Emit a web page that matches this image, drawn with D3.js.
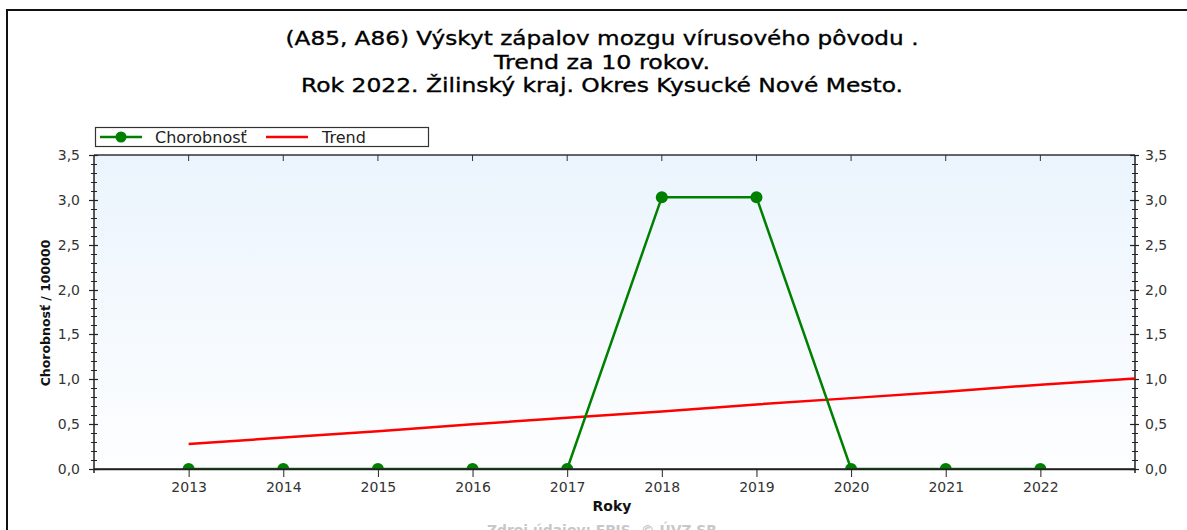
<!DOCTYPE html>
<html>
<head>
<meta charset="utf-8">
<script src="https://cdn.jsdelivr.net/npm/d3@7"></script>
<style>
  html, body { margin: 0; padding: 0; background: #fff; }
  svg { display: block; font-family: "DejaVu Sans", Verdana, sans-serif; }
</style>
</head>
<body>
<svg id="chart" width="1187" height="530"></svg>
<script>
// Incidence per 100 000 inhabitants, by year
const years = [2013, 2014, 2015, 2016, 2017, 2018, 2019, 2020, 2021, 2022];
const incidence = [0, 0, 0, 0, 0, 3.03, 3.03, 0, 0, 0];
// Linear trend, extended one year ahead
const trendYears = [2013, 2014, 2015, 2016, 2017, 2018, 2019, 2020, 2021, 2022, 2023];
const trendValues = [0.28, 0.35, 0.42, 0.50, 0.57, 0.64, 0.72, 0.79, 0.86, 0.94, 1.01];
const yTicks = [0, 0.5, 1.0, 1.5, 2.0, 2.5, 3.0, 3.5];
const titleLines = [
  "(A85, A86) Výskyt zápalov mozgu vírusového pôvodu .",
  "Trend za 10 rokov.",
  "Rok 2022. Žilinský kraj. Okres Kysucké Nové Mesto."
];
const titleWidths = [633, 216, 602];
const seriesNames = ["Chorobnosť", "Trend"];

const svg = d3.select("#chart");
const m = { left: 94, right: 1135, top: 155, bottom: 469 };

const x = d3.scaleLinear().domain([2012, 2023]).range([m.left, m.right]);
const y = d3.scaleLinear().domain([0, 3.5]).range([m.bottom, m.top]);
const fmt = d => d3.format(".1f")(d).replace(".", ",");

// outer frame
svg.append("path")
  .attr("d", `M7,532 L7,10 L1190,10`)
  .attr("fill", "none").attr("stroke", "#111").attr("stroke-width", 2);

// title
svg.append("g").selectAll("text").data(titleLines).join("text")
  .attr("x", 602).attr("y", (d, i) => 45 + i * 23.5)
  .attr("text-anchor", "middle")
  .attr("font-size", 20).attr("fill", "#000")
  .attr("stroke", "#000").attr("stroke-width", 0.35)
  .attr("textLength", (d, i) => titleWidths[i]).attr("lengthAdjust", "spacingAndGlyphs")
  .text(d => d);

// plot background gradient
const defs = svg.append("defs");
const grad = defs.append("linearGradient").attr("id", "bg")
  .attr("x1", 0).attr("y1", 0).attr("x2", 0).attr("y2", 1);
grad.append("stop").attr("offset", "0%").attr("stop-color", "#ebf4fd");
grad.append("stop").attr("offset", "100%").attr("stop-color", "#fdfeff");
defs.append("clipPath").attr("id", "clip").append("rect")
  .attr("x", m.left).attr("y", m.top)
  .attr("width", m.right - m.left).attr("height", m.bottom - m.top);

svg.append("rect")
  .attr("x", m.left).attr("y", m.top)
  .attr("width", m.right - m.left).attr("height", m.bottom - m.top)
  .attr("fill", "url(#bg)");

// top border line with year ticks pointing inward
svg.append("line").attr("x1", m.left).attr("x2", m.right)
  .attr("y1", m.top).attr("y2", m.top).attr("stroke", "#333").attr("stroke-width", 1.5);
svg.append("g").selectAll("line").data(years).join("line")
  .attr("x1", d => x(d)).attr("x2", d => x(d))
  .attr("y1", m.top).attr("y2", m.top + 6)
  .attr("stroke", "#333").attr("stroke-width", 1);

// y axes (left and right), with minor ticks every 0.1
const minor = d3.range(0, 36).map(i => i / 10);
function yAxis(xPos, side) {
  const g = svg.append("g");
  g.append("line").attr("x1", xPos).attr("x2", xPos)
    .attr("y1", m.top).attr("y2", m.bottom + 4)
    .attr("stroke", "#222").attr("stroke-width", 1.5);
  g.selectAll("line.minor").data(minor).join("line").attr("class", "minor")
    .attr("x1", xPos - 3).attr("x2", xPos + 3)
    .attr("y1", d => Math.round(y(d)) + 0.5).attr("y2", d => Math.round(y(d)) + 0.5)
    .attr("stroke", "#222").attr("stroke-width", 1);
  g.selectAll("line.major").data(yTicks).join("line").attr("class", "major")
    .attr("x1", xPos - 5).attr("x2", xPos + 4)
    .attr("y1", d => Math.round(y(d)) + 0.5).attr("y2", d => Math.round(y(d)) + 0.5)
    .attr("stroke", "#222").attr("stroke-width", 1.2);
  g.selectAll("text").data(yTicks).join("text")
    .attr("x", side === "left" ? xPos - 14 : xPos + 10)
    .attr("y", d => y(d) + 5)
    .attr("text-anchor", side === "left" ? "end" : "start")
    .attr("font-size", 14).attr("fill", "#333")
    .text(fmt);
}
yAxis(m.left, "left");
yAxis(m.right, "right");

// x axis at the bottom
const xg = svg.append("g").attr("transform", `translate(0,${m.bottom})`)
  .call(d3.axisBottom(x).tickValues(years).tickFormat(d3.format("d")).tickSize(8).tickSizeOuter(0));
xg.select(".domain").attr("stroke", "#222").attr("stroke-width", 1.5);
xg.selectAll(".tick line").attr("stroke", "#222");
xg.selectAll(".tick text").attr("font-size", 14).attr("fill", "#333")
  .attr("font-family", "DejaVu Sans, Verdana, sans-serif").attr("dy", "0.85em");

// axis titles
svg.append("text").attr("x", 612).attr("y", 511).attr("text-anchor", "middle")
  .attr("font-size", 14).attr("font-weight", "bold").attr("fill", "#111").text("Roky");
svg.append("text").attr("transform", "translate(50,313) rotate(-90)")
  .attr("text-anchor", "middle").attr("font-size", 12.5).attr("font-weight", "bold")
  .attr("fill", "#111").text("Chorobnosť / 100000");

// source note (partly below the visible area)
svg.append("text").attr("x", 602).attr("y", 535).attr("text-anchor", "middle")
  .attr("font-size", 14).attr("font-weight", "bold").attr("fill", "#c8c8c8")
  .attr("textLength", 230).attr("lengthAdjust", "spacingAndGlyphs")
  .text("Zdroj údajov: EPIS, © ÚVZ SR");

// series
const plot = svg.append("g").attr("clip-path", "url(#clip)");
const trendLine = d3.line().x((d, i) => x(trendYears[i])).y(d => y(d));
plot.append("path").datum(trendValues)
  .attr("d", trendLine).attr("fill", "none")
  .attr("stroke", "#ff0000").attr("stroke-width", 2.5);

const dataLine = d3.line().x((d, i) => x(years[i])).y(d => y(d));
plot.append("path").datum(incidence)
  .attr("d", dataLine).attr("fill", "none")
  .attr("stroke", "#008000").attr("stroke-width", 2.5);
plot.selectAll("circle").data(incidence).join("circle")
  .attr("cx", (d, i) => x(years[i])).attr("cy", d => y(d))
  .attr("r", 6).attr("fill", "#008000");

// redraw the baseline above the clipped markers
svg.append("line").attr("x1", m.left).attr("x2", m.right)
  .attr("y1", m.bottom).attr("y2", m.bottom).attr("stroke", "#222").attr("stroke-width", 1.5);

// legend
const lg = svg.append("g");
lg.append("rect").attr("x", 95.5).attr("y", 127.5).attr("width", 333).attr("height", 19)
  .attr("fill", "#fff").attr("stroke", "#333").attr("stroke-width", 1.2);
lg.append("line").attr("x1", 100).attr("x2", 142).attr("y1", 137).attr("y2", 137)
  .attr("stroke", "#008000").attr("stroke-width", 2.5);
lg.append("circle").attr("cx", 121).attr("cy", 137).attr("r", 5.5).attr("fill", "#008000");
lg.append("text").attr("x", 155).attr("y", 142.5).attr("font-size", 16).attr("fill", "#222").text(seriesNames[0]);
lg.append("line").attr("x1", 266).attr("x2", 308).attr("y1", 137).attr("y2", 137)
  .attr("stroke", "#ff0000").attr("stroke-width", 2.5);
lg.append("text").attr("x", 322).attr("y", 142.5).attr("font-size", 16).attr("fill", "#222").text(seriesNames[1]);
</script>
</body>
</html>
